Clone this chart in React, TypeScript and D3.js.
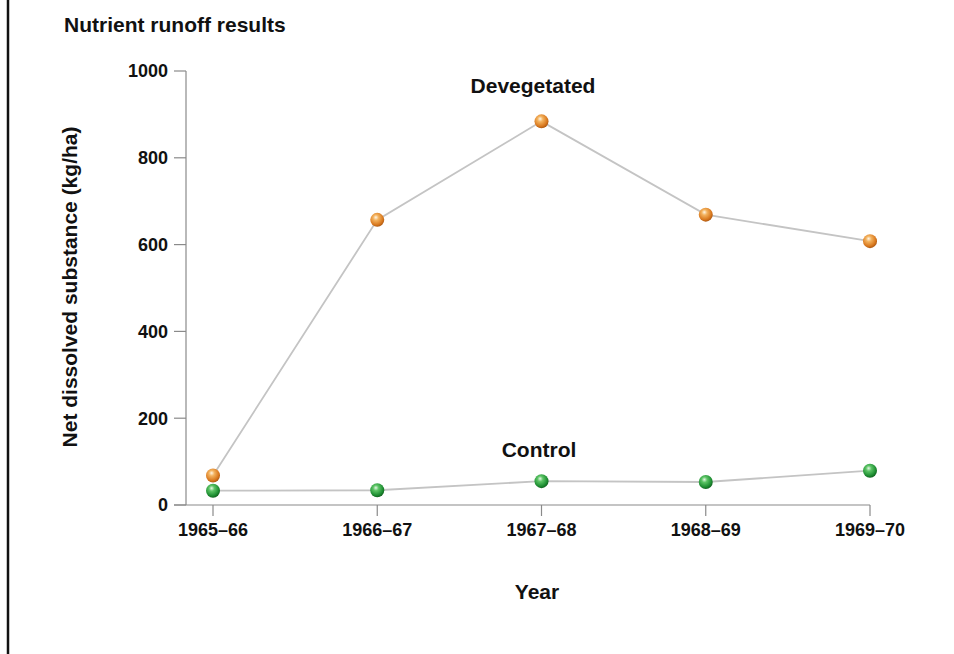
import React from "react";
import * as d3 from "d3";

const years = ["1965–66", "1966–67", "1967–68", "1968–69", "1969–70"];
const devegetated = [68, 657, 884, 669, 608];
const control = [33, 34, 55, 53, 79];
const yTicks = [0, 200, 400, 600, 800, 1000];

const W = 954;
const H = 654;

export default function App() {
  const x = d3.scalePoint<string>().domain(years).range([213, 870]);
  const y = d3.scaleLinear().domain([0, 1000]).range([505, 71]);
  const line = d3
    .line<number>()
    .x((_, i) => x(years[i]) as number)
    .y((d) => y(d));
  const font = "'Liberation Sans', Arial, Helvetica, sans-serif";
  const axisColor = "#8a8a8a";

  const series = [
    { name: "Devegetated", values: devegetated, grad: "gOrange" },
    { name: "Control", values: control, grad: "gGreen" },
  ];

  return (
    <svg
      width={W}
      height={H}
      style={{ position: "absolute", left: 0, top: 0, background: "#fff" }}
      fontFamily={font}
    >
      <defs>
        <radialGradient id="gOrange" cx="0.42" cy="0.38" r="0.65" fx="0.4" fy="0.32">
          <stop offset="0" stopColor="#fff6e6" />
          <stop offset="0.3" stopColor="#f3b25e" />
          <stop offset="0.75" stopColor="#d9791f" />
          <stop offset="1" stopColor="#a85410" />
        </radialGradient>
        <radialGradient id="gGreen" cx="0.42" cy="0.38" r="0.65" fx="0.4" fy="0.32">
          <stop offset="0" stopColor="#e6f7e6" />
          <stop offset="0.3" stopColor="#5cc465" />
          <stop offset="0.75" stopColor="#1f8f33" />
          <stop offset="1" stopColor="#0f5e1c" />
        </radialGradient>
      </defs>
      <rect x={0} y={0} width={W} height={H} fill="#fff" />
      <line x1={8} x2={8} y1={0} y2={H} stroke="#111" strokeWidth={2.5} />

      <text x={64} y={32} fontSize={21} fontWeight="bold" fill="#111">
        Nutrient runoff results
      </text>

      {/* Y axis */}
      <line x1={186} x2={186} y1={y(1000)} y2={y(0)} stroke={axisColor} strokeWidth={1.2} />
      {yTicks.map((t) => (
        <g key={t}>
          <line x1={174} x2={186} y1={y(t)} y2={y(t)} stroke={axisColor} strokeWidth={1.2} />
          <text
            x={168}
            y={y(t)}
            dy="0.35em"
            textAnchor="end"
            fontSize={18}
            fontWeight="bold"
            fill="#111"
          >
            {t}
          </text>
        </g>
      ))}

      {/* X axis */}
      <line x1={174} x2={x(years[4]) as number} y1={y(0)} y2={y(0)} stroke={axisColor} strokeWidth={1.2} />
      {years.map((yr) => (
        <g key={yr}>
          <line
            x1={x(yr) as number}
            x2={x(yr) as number}
            y1={y(0)}
            y2={y(0) + 11}
            stroke={axisColor}
            strokeWidth={1.2}
          />
          <text
            x={x(yr) as number}
            y={536}
            textAnchor="middle"
            fontSize={18}
            fontWeight="bold"
            fill="#111"
          >
            {yr}
          </text>
        </g>
      ))}

      <text x={537} y={599} textAnchor="middle" fontSize={21} fontWeight="bold" fill="#111">
        Year
      </text>
      <text
        transform={`translate(77,${287}) rotate(-90)`}
        textAnchor="middle"
        fontSize={21}
        fontWeight="bold"
        fill="#111"
      >
        Net dissolved substance (kg/ha)
      </text>

      {series.map((s) => (
        <path key={s.name} d={line(s.values) || ""} fill="none" stroke="#c4c4c4" strokeWidth={1.8} />
      ))}
      {series.map((s) =>
        s.values.map((v, i) => (
          <circle
            key={s.name + i}
            cx={x(years[i]) as number}
            cy={y(v)}
            r={7}
            fill={`url(#${s.grad})`}
          />
        ))
      )}

      <text x={533} y={93} textAnchor="middle" fontSize={21} fontWeight="bold" fill="#111">
        Devegetated
      </text>
      <text x={539} y={457} textAnchor="middle" fontSize={21} fontWeight="bold" fill="#111">
        Control
      </text>
    </svg>
  );
}
